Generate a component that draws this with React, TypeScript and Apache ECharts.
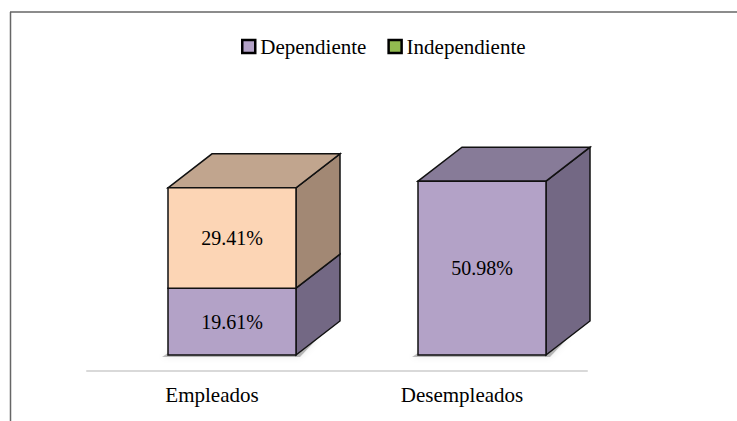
import React, { useEffect, useRef } from "react";
import * as echarts from "echarts";

const categories = ["Empleados", "Desempleados"];
const seriesNames = ["Dependiente", "Independiente"];
const dependiente = [19.61, 50.98];
const independiente = [29.41, 0];

const FONT = "Liberation Serif";

const purple = { front: "#B3A2C7", side: "#736884", top: "#877B98" };
const peach = { front: "#FCD5B5", side: "#A28874", top: "#C1A58E" };

function makeRender(values: number[], bases: number[], colors: any, isTop: (i: number) => boolean, isBottom: boolean) {
  return (params: any, api: any) => {
    const i = params.dataIndex;
    const v = values[i];
    if (!v) return null;
    const base = bases[i];
    const band = api.size([1, 0])[0];
    const cx = api.coord([i, 0])[0];
    const lift = 16;
    const yb = api.coord([i, base])[1] - lift;
    const yt = api.coord([i, base + v])[1] - lift;
    const x0 = cx - band * 0.176;
    const x1 = cx + band * 0.336;
    const dx = band * 0.176;
    const dy = 34;
    const stroke = { stroke: "#111", lineWidth: 1.5 };
    const children: any[] = [];
    if (isBottom) {
      children.push({
        type: "polygon",
        shape: { points: [[x0 - 6, yb + 2], [x1 + 4, yb + 2], [x1 + dx * 0.5, yb - dy * 0.5], [x0, yb - 2]] },
        style: { fill: "rgba(0,0,0,0.25)", shadowBlur: 6, shadowColor: "rgba(0,0,0,0.35)" },
        silent: true,
      });
    }
    children.push({
      type: "polygon",
      shape: { points: [[x1, yb], [x1 + dx, yb - dy], [x1 + dx, yt - dy], [x1, yt]] },
      style: { fill: colors.side, ...stroke },
    });
    if (isTop(i)) {
      children.push({
        type: "polygon",
        shape: { points: [[x0, yt], [x0 + dx, yt - dy], [x1 + dx, yt - dy], [x1, yt]] },
        style: { fill: colors.top, ...stroke },
      });
    }
    children.push({
      type: "rect",
      shape: { x: x0, y: yt, width: x1 - x0, height: yb - yt },
      style: { fill: colors.front, ...stroke },
    });
    children.push({
      type: "text",
      x: (x0 + x1) / 2,
      y: (yt + yb) / 2,
      style: {
        text: v.toFixed(2) + "%",
        fill: "#000",
        fontSize: 20,
        fontFamily: FONT,
        align: "center",
        verticalAlign: "middle",
        textAlign: "center",
        textVerticalAlign: "middle",
      },
    });
    return { type: "group", children };
  };
}

export default function App() {
  const ref = useRef<HTMLDivElement>(null);
  useEffect(() => {
    if (!ref.current) return;
    const chart = echarts.init(ref.current, undefined, { renderer: "svg" });
    const zeros = categories.map(() => 0);
    chart.setOption({
      animation: false,
      backgroundColor: "#fff",
      textStyle: { fontFamily: FONT },
      grid: { left: 87, right: 150, top: 166.4, bottom: 50 },
      legend: {
        left: 236,
        top: 31,
        icon: "rect",
        itemWidth: 13,
        itemHeight: 13,
        itemGap: 21,
        textStyle: { fontSize: 21, fontFamily: FONT, color: "#000" },
        data: [
          { name: seriesNames[0], itemStyle: { color: purple.front, borderColor: "#000", borderWidth: 2.5 } },
          { name: seriesNames[1], itemStyle: { color: "#92BB50", borderColor: "#000", borderWidth: 2.5 } },
        ],
      },
      xAxis: {
        type: "category",
        data: categories,
        axisLine: { show: true, lineStyle: { color: "#D9D9D9", width: 2 } },
        axisTick: { show: false },
        axisLabel: { fontSize: 21, fontFamily: FONT, color: "#000", margin: 13 },
        splitLine: { show: false },
      },
      yAxis: { type: "value", min: 0, max: 60, show: false, splitLine: { show: false } },
      graphic: [
        { type: "line", shape: { x1: 10, y1: 12, x2: 737, y2: 12 }, style: { stroke: "#666", lineWidth: 1.5 } },
        { type: "line", shape: { x1: 10.5, y1: 12, x2: 10.5, y2: 421 }, style: { stroke: "#666", lineWidth: 1.5 } },
      ],
      series: [
        {
          name: seriesNames[0],
          type: "custom",
          clip: false,
          itemStyle: { color: purple.front },
          renderItem: makeRender(dependiente, zeros, purple, (i) => !independiente[i], true),
          data: dependiente.map((v, i) => [i, v]),
        },
        {
          name: seriesNames[1],
          type: "custom",
          clip: false,
          itemStyle: { color: "#92BB50" },
          renderItem: makeRender(independiente, dependiente, peach, () => true, false),
          data: independiente.map((v, i) => [i, v]),
        },
      ],
    });
    return () => chart.dispose();
  }, []);
  return <div ref={ref} style={{ position: "absolute", left: 0, top: 0, width: 737, height: 421 }} />;
}
